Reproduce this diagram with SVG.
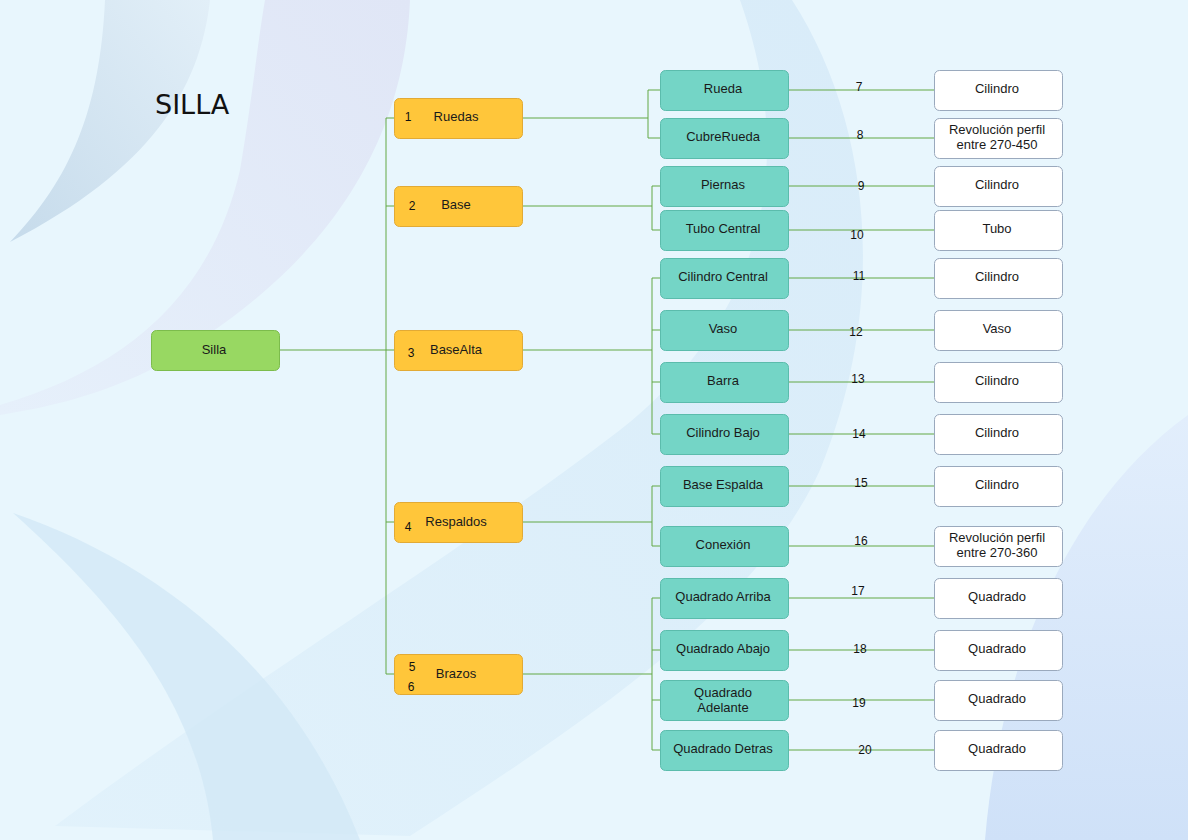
<svg xmlns="http://www.w3.org/2000/svg" width="1188" height="840" viewBox="0 0 1188 840">
<defs>
<linearGradient id="gA" x1="0" y1="1" x2="1" y2="0"><stop offset="0" stop-color="#c6dbeb"/><stop offset="1" stop-color="#e2eff8"/></linearGradient>
<linearGradient id="gB" x1="0" y1="1" x2="1" y2="0"><stop offset="0" stop-color="#e6f0fb"/><stop offset="1" stop-color="#e0e6f6"/></linearGradient>
<linearGradient id="gC" x1="0" y1="1" x2="1" y2="0"><stop offset="0" stop-color="#e0f1fb"/><stop offset="1" stop-color="#d6eaf8"/></linearGradient>
<linearGradient id="gF" x1="0" y1="0" x2="0" y2="1"><stop offset="0" stop-color="#e2eefc"/><stop offset="1" stop-color="#cfe1f8"/></linearGradient>
<style>
.bx{stroke-width:1}
.root{fill:#98d862;stroke:#7cbc4c}
.l1{fill:#ffc63a;stroke:#e2aa35}
.l2{fill:#74d5c6;stroke:#5bbcac}
.l3{fill:#ffffff;stroke:#9aa9bd}
.t{font-family:"Liberation Sans",Arial,sans-serif;font-size:13px;fill:#1a1a1a;text-anchor:middle}
.n{font-family:"Liberation Sans",Arial,sans-serif;font-size:12px;fill:#111;text-anchor:middle}
.c{fill:none;stroke:#62a845;stroke-width:1}
</style>
</defs>
<rect width="1188" height="840" fill="#e8f6fd"/>
<!-- background sweeps -->
<path d="M265,0 L410,0 C405,120 350,260 150,370 C90,400 30,410 0,415 L0,405 C120,370 210,300 240,170 C252,100 258,40 265,0 Z" fill="url(#gB)"/>
<path d="M105,0 L210,0 C200,90 150,170 10,242 C70,180 100,110 105,0 Z" fill="url(#gA)"/>
<path d="M740,0 L792,0 C870,120 890,300 820,470 C760,600 620,700 410,836 L55,826 C250,680 450,560 620,430 C760,320 800,170 740,0 Z" fill="url(#gC)" opacity="0.85"/>
<path d="M13,513 C150,560 290,660 360,840 L213,840 C200,700 110,600 13,513 Z" fill="#d2e9f6" opacity="0.8"/>
<path d="M1188,415 C1070,500 1000,660 985,840 L1188,840 Z" fill="url(#gF)"/>
<!-- title -->
<text x="155" y="114" font-family="DejaVu Sans,Verdana,sans-serif" font-size="27" fill="#111">SILLA</text>
<!-- connectors -->
<g id="connectors">
<path class="c" d="M279,350 H394 M386,118 V674 M386,118 H394 M386,206 H394 M386,522 H394 M386,674 H394"/>
<path class="c" d="M522,118 H648 M648,90 V138 M648,90 H660 M648,138 H660"/>
<path class="c" d="M522,206 H652 M652,186 V230 M652,186 H660 M652,230 H660"/>
<path class="c" d="M522,350 H652 M652,278 V434 M652,278 H660 M652,330 H660 M652,382 H660 M652,434 H660"/>
<path class="c" d="M522,522 H652 M652,486 V546 M652,486 H660 M652,546 H660"/>
<path class="c" d="M522,674 H652 M652,598 V750 M652,598 H660 M652,650 H660 M652,700 H660 M652,750 H660"/>
<path class="c" d="M788,90 H934 M788,138 H934 M788,186 H934 M788,230 H934 M788,278 H934 M788,330 H934 M788,382 H934 M788,434 H934 M788,486 H934 M788,546 H934 M788,598 H934 M788,650 H934 M788,700 H934 M788,750 H934"/>
<text class="n" x="859" y="91">7</text>
<text class="n" x="860" y="139">8</text>
<text class="n" x="861" y="190">9</text>
<text class="n" x="857" y="239">10</text>
<text class="n" x="859" y="280">11</text>
<text class="n" x="856" y="336">12</text>
<text class="n" x="858" y="383">13</text>
<text class="n" x="859" y="438">14</text>
<text class="n" x="861" y="487">15</text>
<text class="n" x="861" y="545">16</text>
<text class="n" x="858" y="595">17</text>
<text class="n" x="860" y="653">18</text>
<text class="n" x="859" y="707">19</text>
<text class="n" x="865" y="754">20</text>
</g>
<!-- root -->
<g id="silla"><rect class="bx root" x="151.5" y="330.5" width="128" height="40" rx="5"/><text class="t" x="214" y="354">Silla</text></g>
<!-- level 1 -->
<g id="ruedas"><rect class="bx l1" x="394.5" y="98.5" width="128" height="40" rx="5"/><text class="n" x="408" y="121">1</text><text class="t" x="456" y="121">Ruedas</text></g>
<g id="base"><rect class="bx l1" x="394.5" y="186.5" width="128" height="40" rx="5"/><text class="n" x="412" y="210">2</text><text class="t" x="456" y="209">Base</text></g>
<g id="basealta"><rect class="bx l1" x="394.5" y="330.5" width="128" height="40" rx="5"/><text class="n" x="411" y="357">3</text><text class="t" x="456" y="354">BaseAlta</text></g>
<g id="respaldos"><rect class="bx l1" x="394.5" y="502.5" width="128" height="40" rx="5"/><text class="n" x="408" y="531">4</text><text class="t" x="456" y="526">Respaldos</text></g>
<g id="brazos"><rect class="bx l1" x="394.5" y="654.5" width="128" height="40" rx="5"/><text class="n" x="412" y="671">5</text><text class="n" x="411" y="691">6</text><text class="t" x="456" y="678">Brazos</text></g>
<!-- level 2 -->
<g id="rueda"><rect class="bx l2" x="660.5" y="70.5" width="128" height="40" rx="5"/><text class="t" x="723" y="93">Rueda</text></g>
<g id="cubrerueda"><rect class="bx l2" x="660.5" y="118.5" width="128" height="40" rx="5"/><text class="t" x="723" y="141">CubreRueda</text></g>
<g id="piernas"><rect class="bx l2" x="660.5" y="166.5" width="128" height="40" rx="5"/><text class="t" x="723" y="189">Piernas</text></g>
<g id="tubocentral"><rect class="bx l2" x="660.5" y="210.5" width="128" height="40" rx="5"/><text class="t" x="723" y="233">Tubo Central</text></g>
<g id="cilindrocentral"><rect class="bx l2" x="660.5" y="258.5" width="128" height="40" rx="5"/><text class="t" x="723" y="281">Cilindro Central</text></g>
<g id="vaso"><rect class="bx l2" x="660.5" y="310.5" width="128" height="40" rx="5"/><text class="t" x="723" y="333">Vaso</text></g>
<g id="barra"><rect class="bx l2" x="660.5" y="362.5" width="128" height="40" rx="5"/><text class="t" x="723" y="385">Barra</text></g>
<g id="cilindrobajo"><rect class="bx l2" x="660.5" y="414.5" width="128" height="40" rx="5"/><text class="t" x="723" y="437">Cilindro Bajo</text></g>
<g id="baseespalda"><rect class="bx l2" x="660.5" y="466.5" width="128" height="40" rx="5"/><text class="t" x="723" y="489">Base Espalda</text></g>
<g id="conexion"><rect class="bx l2" x="660.5" y="526.5" width="128" height="40" rx="5"/><text class="t" x="723" y="549">Conexión</text></g>
<g id="qarriba"><rect class="bx l2" x="660.5" y="578.5" width="128" height="40" rx="5"/><text class="t" x="723" y="601">Quadrado Arriba</text></g>
<g id="qabajo"><rect class="bx l2" x="660.5" y="630.5" width="128" height="40" rx="5"/><text class="t" x="723" y="653">Quadrado Abajo</text></g>
<g id="qadelante"><rect class="bx l2" x="660.5" y="680.5" width="128" height="40" rx="5"/><text class="t" x="723" y="697">Quadrado</text><text class="t" x="723" y="712">Adelante</text></g>
<g id="qdetras"><rect class="bx l2" x="660.5" y="730.5" width="128" height="40" rx="5"/><text class="t" x="723" y="753">Quadrado Detras</text></g>
<!-- level 3 -->
<g id="w7"><rect class="bx l3" x="934.5" y="70.5" width="128" height="40" rx="5"/><text class="t" x="997" y="93">Cilindro</text></g>
<g id="w8"><rect class="bx l3" x="934.5" y="118.5" width="128" height="40" rx="5"/><text class="t" x="997" y="134">Revolución perfil</text><text class="t" x="997" y="149">entre 270-450</text></g>
<g id="w9"><rect class="bx l3" x="934.5" y="166.5" width="128" height="40" rx="5"/><text class="t" x="997" y="189">Cilindro</text></g>
<g id="w10"><rect class="bx l3" x="934.5" y="210.5" width="128" height="40" rx="5"/><text class="t" x="997" y="233">Tubo</text></g>
<g id="w11"><rect class="bx l3" x="934.5" y="258.5" width="128" height="40" rx="5"/><text class="t" x="997" y="281">Cilindro</text></g>
<g id="w12"><rect class="bx l3" x="934.5" y="310.5" width="128" height="40" rx="5"/><text class="t" x="997" y="333">Vaso</text></g>
<g id="w13"><rect class="bx l3" x="934.5" y="362.5" width="128" height="40" rx="5"/><text class="t" x="997" y="385">Cilindro</text></g>
<g id="w14"><rect class="bx l3" x="934.5" y="414.5" width="128" height="40" rx="5"/><text class="t" x="997" y="437">Cilindro</text></g>
<g id="w15"><rect class="bx l3" x="934.5" y="466.5" width="128" height="40" rx="5"/><text class="t" x="997" y="489">Cilindro</text></g>
<g id="w16"><rect class="bx l3" x="934.5" y="526.5" width="128" height="40" rx="5"/><text class="t" x="997" y="542">Revolución perfil</text><text class="t" x="997" y="557">entre 270-360</text></g>
<g id="w17"><rect class="bx l3" x="934.5" y="578.5" width="128" height="40" rx="5"/><text class="t" x="997" y="601">Quadrado</text></g>
<g id="w18"><rect class="bx l3" x="934.5" y="630.5" width="128" height="40" rx="5"/><text class="t" x="997" y="653">Quadrado</text></g>
<g id="w19"><rect class="bx l3" x="934.5" y="680.5" width="128" height="40" rx="5"/><text class="t" x="997" y="703">Quadrado</text></g>
<g id="w20"><rect class="bx l3" x="934.5" y="730.5" width="128" height="40" rx="5"/><text class="t" x="997" y="753">Quadrado</text></g>
</svg>
